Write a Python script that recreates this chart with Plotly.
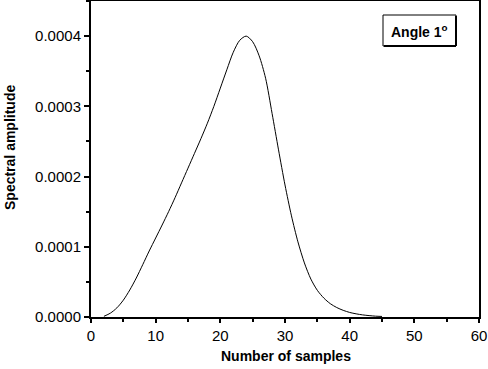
import plotly.graph_objects as go

samples = [2, 3, 4, 5, 6, 7, 8, 9, 10, 11, 12, 13, 14, 15, 16, 17, 18, 19, 20, 21, 22, 23,
           24, 25, 26, 27, 28, 29, 30, 31, 32, 33, 34, 35, 36, 37, 38, 39, 40, 41, 42, 43, 44, 45]
amplitude = [0.000001, 0.0000055, 0.000013, 0.000024, 0.0000385, 0.0000555, 0.0000745, 0.000094,
             0.0001125, 0.000131, 0.00015, 0.00017, 0.000191, 0.000212, 0.000233, 0.000254,
             0.000276, 0.0003, 0.000326, 0.000352, 0.000377, 0.000394, 0.0004, 0.000392,
             0.000372, 0.00034, 0.00029, 0.000238, 0.000188, 0.000144, 0.000107, 0.000077,
             0.000054, 0.000038, 0.000027, 0.000019, 0.0000135, 0.0000095, 0.0000065,
             0.0000045, 0.000003, 0.000002, 0.0000012, 0.0000008]
x_ticks = [0, 10, 20, 30, 40, 50, 60]
y_ticks = [0.0, 0.0001, 0.0002, 0.0003, 0.0004]
x_title = "Number of samples"
y_title = "Spectral amplitude"
legend_label = "Angle 1<sup>o</sup>"

font_family = "Liberation Sans, Arial, sans-serif"

L, R, T, B = 91, 479, 1, 317
W, H = 488, 369
pw, ph = R - L, B - T


def px(xp):
    return (xp - L) / pw


def py(yp):
    return (B - yp) / ph


fig = go.Figure()
fig.add_trace(go.Scatter(
    x=samples, y=amplitude, mode="lines",
    line=dict(color="black", width=1, shape="spline", smoothing=0.8),
    showlegend=False, hoverinfo="skip"))

fig.update_layout(
    width=W, height=H,
    margin=dict(l=L, r=W - R, t=T, b=H - B, autoexpand=False),
    paper_bgcolor="white", plot_bgcolor="white",
    font=dict(family=font_family, color="black", size=15),
    showlegend=False,
)
fig.update_xaxes(
    range=[0, 60], tickvals=x_ticks, ticktext=[str(v) for v in x_ticks],
    ticks="outside", ticklen=4, tickwidth=1.5, tickcolor="black",
    minor=dict(dtick=5, tick0=0, ticks="outside", ticklen=3, tickcolor="black"),
    showline=True, linecolor="black", linewidth=2, mirror=True,
    showgrid=False, zeroline=False, automargin=False,
    tickfont=dict(size=15),
)
fig.update_yaxes(
    range=[0, 0.00045], tickvals=y_ticks, ticktext=[f"{v:.4f}" for v in y_ticks],
    ticks="outside", ticklen=5, tickwidth=1.5, tickcolor="black",
    minor=dict(dtick=0.00005, tick0=0, ticks="outside", ticklen=3, tickcolor="black"),
    showline=True, linecolor="black", linewidth=2, mirror=True,
    showgrid=False, zeroline=False, automargin=False,
    tickfont=dict(size=15),
)

# axis titles
fig.add_annotation(xref="paper", yref="paper", x=px(286), y=py(356),
                   text="<b>" + x_title + "</b>", showarrow=False,
                   font=dict(size=14, family=font_family, color="black"),
                   xanchor="center", yanchor="middle")
fig.add_annotation(xref="paper", yref="paper", x=px(10), y=py(148),
                   text="<b>" + y_title + "</b>", showarrow=False, textangle=-90,
                   font=dict(size=14, family=font_family, color="black"),
                   xanchor="center", yanchor="middle")

# legend box with shadow-like thicker bottom/right borders
fig.add_shape(type="rect", xref="paper", yref="paper",
              x0=px(383), x1=px(456), y0=py(46), y1=py(15),
              line=dict(color="black", width=1), fillcolor="white")
fig.add_shape(type="line", xref="paper", yref="paper",
              x0=px(384), x1=px(456), y0=py(46), y1=py(46),
              line=dict(color="black", width=2))
fig.add_shape(type="line", xref="paper", yref="paper",
              x0=px(456), x1=px(456), y0=py(46), y1=py(16),
              line=dict(color="black", width=2))
fig.add_annotation(xref="paper", yref="paper", x=px(419), y=py(31),
                   text="<b>" + legend_label + "</b>", showarrow=False,
                   font=dict(size=14, family=font_family, color="black"),
                   xanchor="center", yanchor="middle")

fig.write_html("out.html", config={"displayModeBar": False},
               post_script="document.body.style.margin='0';document.body.style.padding='0';")
